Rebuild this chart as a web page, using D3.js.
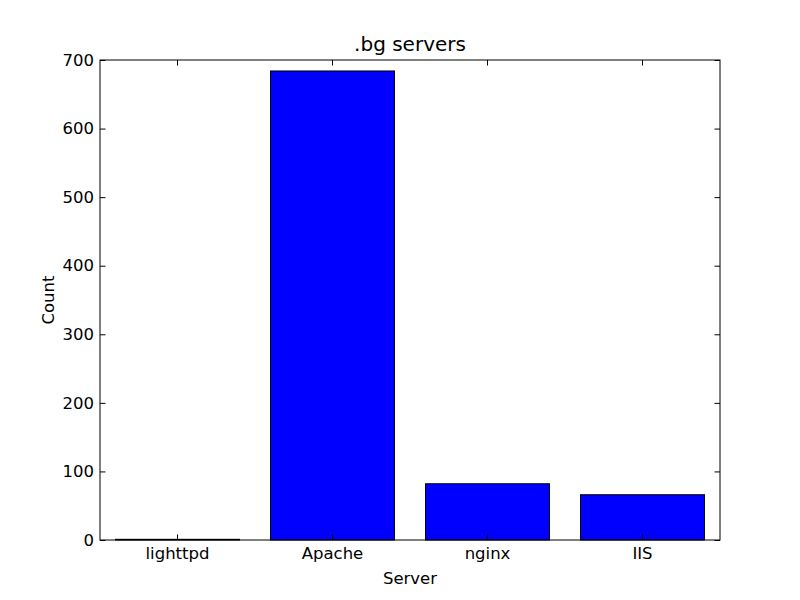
<!DOCTYPE html>
<html>
<head>
<meta charset="utf-8">
<script src="https://cdn.jsdelivr.net/npm/d3@7"></script>
<style>
  body { margin: 0; background: #fff; }
  text { font-family: "DejaVu Sans", sans-serif; }
</style>
</head>
<body>
<div id="chart"></div>
<script>
const servers = ['lighttpd', 'Apache', 'nginx', 'IIS'];
const counts = [1, 684, 82, 66];
const yTicks = [0, 100, 200, 300, 400, 500, 600, 700];

const width = 800, height = 600;
const margin = { top: 60, right: 80, bottom: 60, left: 100 };
const plotW = width - margin.left - margin.right,
    plotH = height - margin.top - margin.bottom;
const tickLen = 5.5;

const svg = d3.select('#chart').append('svg')
    .attr('width', width)
    .attr('height', height);

const g = svg.append('g')
    .attr('transform', `translate(${margin.left},${margin.top})`);

const x = d3.scaleBand()
    .domain(servers)
    .range([0, plotW])
    .paddingInner(0.2)
    .paddingOuter(0.1);

const y = d3.scaleLinear()
    .domain([0, 700])
    .range([plotH, 0]);

g.selectAll('rect.bar')
    .data(servers)
    .enter().append('rect')
    .attr('class', 'bar')
    .attr('x', d => x(d))
    .attr('width', x.bandwidth())
    .attr('y', (d, i) => y(counts[i]))
    .attr('height', (d, i) => y(0) - y(counts[i]))
    .attr('fill', '#0000ff')
    .attr('stroke', '#000')
    .attr('stroke-width', 1);

// axes: ticks pointing inward, mirrored on top/right
const styleAxis = sel => {
    sel.select('.domain').remove();
    sel.selectAll('text')
        .attr('font-size', '16.5px')
        .attr('fill', '#000');
    sel.selectAll('line').attr('stroke', '#000');
};

g.append('g')
    .attr('transform', `translate(0,${plotH})`)
    .call(d3.axisBottom(x).tickSizeInner(-tickLen).tickSizeOuter(0).tickPadding(7))
    .call(styleAxis);

g.append('g')
    .call(d3.axisTop(x).tickSizeInner(-tickLen).tickSizeOuter(0).tickFormat(''))
    .call(styleAxis);

g.append('g')
    .call(d3.axisLeft(y).tickValues(yTicks).tickSizeInner(-tickLen).tickSizeOuter(0).tickPadding(6))
    .call(styleAxis);

g.append('g')
    .attr('transform', `translate(${plotW},0)`)
    .call(d3.axisRight(y).tickValues(yTicks).tickSizeInner(-tickLen).tickSizeOuter(0).tickFormat(''))
    .call(styleAxis);

g.append('rect')
    .attr('width', plotW)
    .attr('height', plotH)
    .attr('fill', 'none')
    .attr('stroke', '#000')
    .attr('stroke-width', 1);

svg.append('text')
    .attr('x', margin.left + plotW / 2)
    .attr('y', margin.top - 9)
    .attr('text-anchor', 'middle')
    .attr('font-size', '20px')
    .text('.bg servers');

svg.append('text')
    .attr('x', margin.left + plotW / 2)
    .attr('y', height - 16)
    .attr('text-anchor', 'middle')
    .attr('font-size', '16.5px')
    .text('Server');

svg.append('text')
    .attr('transform', `translate(54,${margin.top + plotH / 2}) rotate(-90)`)
    .attr('text-anchor', 'middle')
    .attr('font-size', '16.5px')
    .text('Count');
</script>
</body>
</html>
